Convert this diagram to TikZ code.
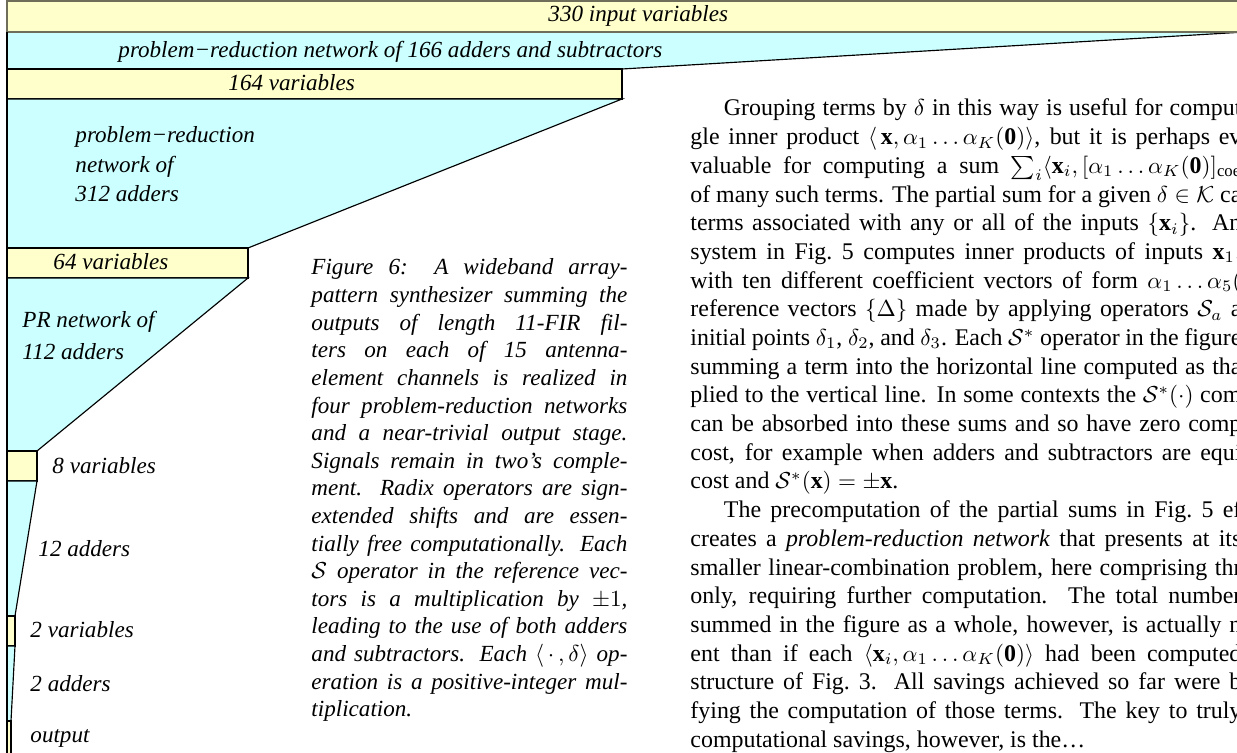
\documentclass[tikz,border=0pt]{standalone}
\usepackage{fontspec}
\setmainfont{Liberation Serif}
\definecolor{fillY}{HTML}{FFFFCC}
\definecolor{fillC}{HTML}{CCFFFF}
\definecolor{topedge}{HTML}{6E6E5A}
\newlength\capw \setlength\capw{136.8pt}
\newlength\bodyw \setlength\bodyw{238.5pt}
\newcommand\cjl[1]{\makebox[\capw][s]{#1}\\}
\newcommand\bjl[1]{\makebox[\bodyw][s]{#1}\\}
\tikzset{
  ybar/.style={fill=fillY, draw=black, line width=0.5pt},
  cbar/.style={fill=fillC, draw=black, line width=0.5pt},
  lab/.style={font=\itshape, inner sep=0pt, anchor=base west},
  txt/.style={inner sep=0pt, anchor=base west},
}
\begin{document}
\begin{tikzpicture}[x=0.4329pt, y=-0.4329pt]
\useasboundingbox (0,0) rectangle (1237,753);
\clip (0,0) rectangle (1237,753);
% stages
\fill[fillC] (7,32) -- (1245,32) -- (622,69) -- (7,69) -- cycle;
\draw[line width=0.5pt] (1245,32) -- (622,69);
\draw[ybar, draw=topedge, line width=0.7pt] (7,1) rectangle (1250,32);
\draw[ybar] (7,69) rectangle (622,99);
\draw[cbar] (7,99) -- (622,99) -- (248,248) -- (7,248) -- cycle;
\draw[ybar] (7,248) rectangle (248,278);
\draw[cbar] (7,278) -- (248,278) -- (37,451) -- (7,451) -- cycle;
\draw[ybar] (7,451) rectangle (37,481);
\draw[cbar] (7,481) -- (37,481) -- (15,616) -- (7,616) -- cycle;
\draw[ybar] (7,616) rectangle (15,646);
\draw[cbar] (7,646) -- (15,646) -- (11,721) -- (7,721) -- cycle;
\draw[ybar] (7,721) rectangle (11,760);
\draw[line width=0.5pt] (7,32) -- (7,760);
% labels
\node[lab] (l330) at (548,22) {330 input variables};
\node[lab] (l166) at (118,58) {problem−reduction network of 166 adders and subtractors};
\node[lab] (l164) at (228,91) {164 variables};
\node[lab] (l312a) at (75,143) {problem−reduction};
\node[lab] (l312b) at (75,173) {network of};
\node[lab] (l312c) at (75,202) {312 adders};
\node[lab] (l64) at (53,270) {64 variables};
\node[lab] (l112a) at (22,328) {PR network of};
\node[lab] (l112b) at (22,360) {112 adders};
\node[lab] (l8) at (52,473) {8 variables};
\node[lab] (l12) at (38,557) {12 adders};
\node[lab] (l2v) at (30,637) {2 variables};
\node[lab] (l2a) at (30,692) {2 adders};
\node[lab] (lout) at (30,742) {output};
% caption
\node[txt] (cap) at (311,275) {\parbox[t]{\capw}{\itshape\fontsize{10}{11.95}\selectfont
\cjl{Figure 6: A wideband array-}
\cjl{pattern synthesizer summing the}
\cjl{outputs of length 11-FIR fil-}
\cjl{ters on each of 15 antenna-}
\cjl{element channels is realized in}
\cjl{four problem-reduction networks}
\cjl{and a near-trivial output stage.}
\cjl{Signals remain in two’s comple-}
\cjl{ment. Radix operators are sign-}
\cjl{extended shifts and are essen-}
\cjl{tially free computationally. Each}
\cjl{$\mathcal{S}$ operator in the reference vec-}
\cjl{tors is a multiplication by $\pm1$,}
\cjl{leading to the use of both adders}
\cjl{and subtractors. Each $\langle\,\cdot\,,\delta\rangle$ op-}
\cjl{eration is a positive-integer mul-}
tiplication.}};
% body text
\node[txt] (body) at (690,116) {\parbox[t]{\bodyw}{\fontsize{10.35}{12.42}\selectfont\lineskiplimit=-100pt
\bjl{\hspace*{14.5pt}Grouping terms by $\delta$ in this way is useful for comput}
\bjl{gle inner product $\langle\,\mathbf{x},\alpha_1\ldots\alpha_K(\mathbf{0})\rangle$, but it is perhaps ev}
\bjl{valuable for computing a sum $\sum_i\langle\mathbf{x}_i,[\alpha_1\ldots\alpha_K(\mathbf{0})]_{\mathrm{coe}}$}
\bjl{of many such terms. The partial sum for a given $\delta\in\mathcal{K}$ ca}
\bjl{terms associated with any or all of the inputs $\{\mathbf{x}_i\}$. An}
\bjl{system in Fig.~5 computes inner products of inputs $\mathbf{x}_1,$}
\bjl{with ten different coefficient vectors of form $\alpha_1\ldots\alpha_5($}
\bjl{reference vectors $\{\Delta\}$ made by applying operators $\mathcal{S}_a$ a}
\bjl{initial points $\delta_1$, $\delta_2$, and $\delta_3$. Each $\mathcal{S}^*$ operator in the figure}
\bjl{summing a term into the horizontal line computed as tha}
\bjl{plied to the vertical line. In some contexts the $\mathcal{S}^*(\cdot)$ com}
\bjl{can be absorbed into these sums and so have zero comp}
\bjl{cost, for example when adders and subtractors are equi}
cost and $\mathcal{S}^*(\mathbf{x})=\pm\mathbf{x}$.\\
\bjl{\hspace*{14.5pt}The precomputation of the partial sums in Fig.~5 ef}
\bjl{creates a \emph{problem-reduction network} that presents at its}
\bjl{smaller linear-combination problem, here comprising thr}
\bjl{only, requiring further computation. The total number}
\bjl{summed in the figure as a whole, however, is actually n}
\bjl{ent than if each $\langle\mathbf{x}_i,\alpha_1\ldots\alpha_K(\mathbf{0})\rangle$ had been computed}
\bjl{structure of Fig.~3. All savings achieved so far were b}
\bjl{fying the computation of those terms. The key to truly}
computational savings, however, is the\ldots}};
\end{tikzpicture}
\end{document}
